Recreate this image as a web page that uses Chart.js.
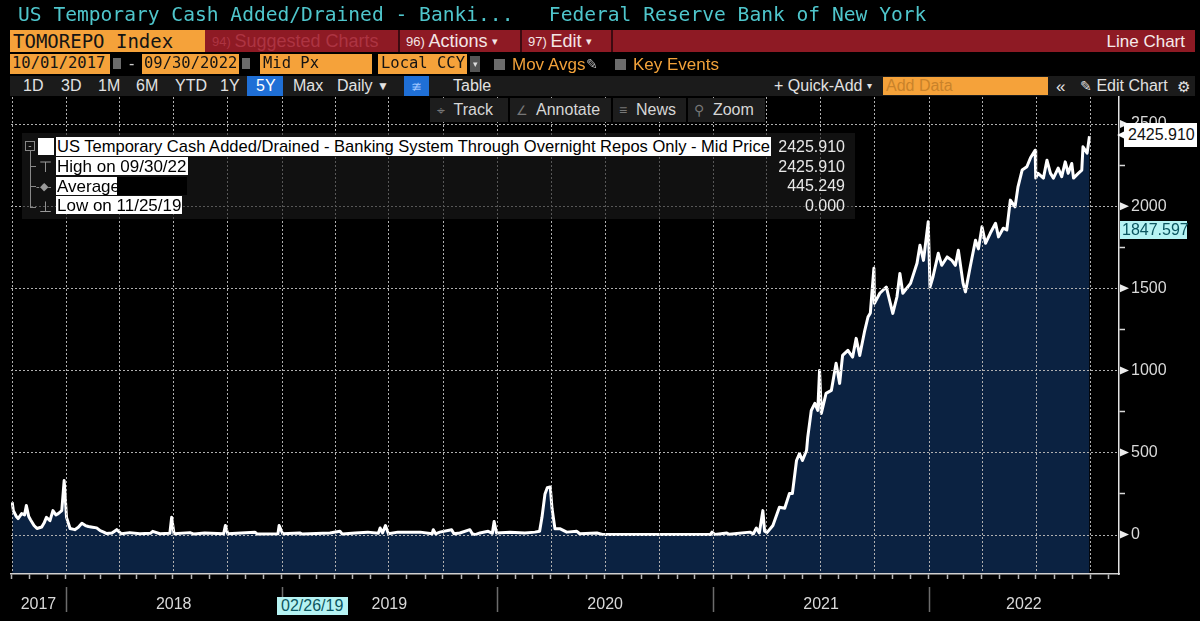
<!DOCTYPE html>
<html>
<head>
<meta charset="utf-8">
<script src="https://cdn.jsdelivr.net/npm/chart.js@4.4.0/dist/chart.umd.min.js"></script>
<style>
  body { margin: 0; background: #000; }
  #wrap { position: relative; width: 1200px; height: 621px; overflow: hidden; background: #000;
          font-family: "Liberation Sans", Arial, sans-serif; color: #ddd; }
  #wrap canvas { position: absolute; left: 0; top: 0; }
  .b { position: absolute; display: flex; align-items: center; white-space: pre; box-sizing: border-box; line-height: 1; }
  .mono { font-family: "DejaVu Sans Mono", monospace; }
  .org { background: #f5a23a; color: #141414; }
  .sep { position: absolute; background: #3c0a10; width: 2px; }
  .gsq { position: absolute; background: #6b6b6b; }
  .sel { background: #fff; color: #000; }
  .val { position: absolute; width: 120px; text-align: right; color: #e8e8e8; font-size: 16px; line-height: 1; }
</style>
</head>
<body>
<div id="wrap">
  <canvas id="chart" width="1200" height="621"></canvas>

  <!-- header -->
  <div class="b mono" style="left:18px;top:2px;height:26px;font-size:19.6px;color:#4fc6cc;">US Temporary Cash Added/Drained - Banki...   Federal Reserve Bank of New York</div>

  <div class="b org mono" style="left:10px;top:30px;width:195px;height:22px;padding-left:3px;font-size:19px;">TOMOREPO Index</div>
  <div class="b" style="left:205px;top:30px;width:990px;height:22px;background:#8e1a24;"></div>
  <div class="b" style="left:212px;top:30px;height:22px;font-size:18px;color:#ad3442;"><span style="font-size:13px">94) </span>Suggested Charts</div>
  <div class="sep" style="left:398px;top:30px;height:22px"></div>
  <div class="b" style="left:406px;top:30px;height:22px;font-size:18px;color:#f4e6e6;"><span style="font-size:13px">96) </span>Actions <span style="font-size:11px">&#9662;</span></div>
  <div class="sep" style="left:520px;top:30px;height:22px"></div>
  <div class="b" style="left:528px;top:30px;height:22px;font-size:18px;color:#f4e6e6;"><span style="font-size:13px">97) </span>Edit <span style="font-size:11px">&#9662;</span></div>
  <div class="sep" style="left:611px;top:30px;height:22px"></div>
  <div class="b" style="right:15px;top:30px;height:22px;font-size:17px;color:#f6eaea;">Line Chart</div>

  <div class="b org mono" style="left:10px;top:54px;width:100px;height:20px;padding-left:2px;font-size:15.5px;">10/01/2017</div>
  <div class="gsq" style="left:113px;top:58px;width:8px;height:11px"></div>
  <div class="b" style="left:129px;top:54px;height:20px;font-size:16px;color:#ccc">-</div>
  <div class="b org mono" style="left:142px;top:54px;width:97px;height:20px;padding-left:2px;font-size:15.5px;">09/30/2022</div>
  <div class="gsq" style="left:242px;top:58px;width:8px;height:11px"></div>
  <div class="b org mono" style="left:260px;top:54px;width:112px;height:20px;padding-left:3px;font-size:15.5px;">Mid Px</div>
  <div class="b org mono" style="left:378px;top:54px;width:89px;height:20px;padding-left:3px;font-size:15.5px;">Local CCY</div>
  <div class="b" style="left:470px;top:56px;width:10px;height:16px;background:#555;color:#ddd;font-size:9px;justify-content:center">&#9662;</div>
  <div class="gsq" style="left:494px;top:59px;width:11px;height:11px"></div>
  <div class="b" style="left:512px;top:54px;height:20px;font-size:17px;color:#f2a23a;">Mov Avgs</div>
  <div class="b" style="left:586px;top:54px;height:20px;font-size:14px;color:#bbb;">&#9998;</div>
  <div class="gsq" style="left:615px;top:59px;width:11px;height:11px"></div>
  <div class="b" style="left:633px;top:54px;height:20px;font-size:17px;color:#f2a23a;">Key Events</div>

  <div class="b" style="left:10px;top:76px;width:1185px;height:20px;background:#1b1b1b;"></div>
  <div class="b" style="left:247px;top:76px;width:36px;height:20px;background:#1f6fd6;"></div>
  <div class="b" style="left:404px;top:76px;width:25px;height:20px;background:#1f6fd6;color:#9cc4ff;font-size:13px;justify-content:center">&#8775;</div>
  <div class="b" style="left:23px;top:76px;height:20px;font-size:16px;color:#e2e2e2;">1D</div>
  <div class="b" style="left:61px;top:76px;height:20px;font-size:16px;color:#e2e2e2;">3D</div>
  <div class="b" style="left:98px;top:76px;height:20px;font-size:16px;color:#e2e2e2;">1M</div>
  <div class="b" style="left:136px;top:76px;height:20px;font-size:16px;color:#e2e2e2;">6M</div>
  <div class="b" style="left:175px;top:76px;height:20px;font-size:16px;color:#e2e2e2;">YTD</div>
  <div class="b" style="left:220px;top:76px;height:20px;font-size:16px;color:#e2e2e2;">1Y</div>
  <div class="b" style="left:256px;top:76px;height:20px;font-size:16px;color:#fff;">5Y</div>
  <div class="b" style="left:293px;top:76px;height:20px;font-size:16px;color:#e2e2e2;">Max</div>
  <div class="b" style="left:337px;top:76px;height:20px;font-size:16px;color:#e2e2e2;">Daily <span style="font-size:12px">&#9660;</span></div>
  <div class="b" style="left:453px;top:76px;height:20px;font-size:16px;color:#e2e2e2;">Table</div>
  <div class="b" style="left:774px;top:76px;height:20px;font-size:16px;color:#e2e2e2;">+ Quick-Add <span style="font-size:10px">&#9662;</span></div>
  <div class="b org" style="left:883px;top:77px;width:165px;height:18px;padding-left:3px;font-size:16px;color:#c9822a;">Add Data</div>
  <div class="b" style="left:1056px;top:76px;height:20px;font-size:17px;color:#e2e2e2;">&#171;</div>
  <div class="b" style="left:1080px;top:76px;height:20px;font-size:16px;color:#e2e2e2;"><span style="font-size:14px">&#9998;</span> Edit Chart</div>
  <div class="b" style="left:1177px;top:76px;height:20px;font-size:15px;color:#e2e2e2;">&#9881;</div>

  <div class="b" style="left:430px;top:98px;width:335px;height:24px;background:#1d1d1d;"></div>
  <div class="b" style="left:437px;top:98px;height:24px;font-size:16px;color:#d6d6d6;"><span style="color:#777;font-size:14px">&#8982;</span>  Track</div>
  <div class="b" style="left:516px;top:98px;height:24px;font-size:16px;color:#d6d6d6;"><span style="color:#777;font-size:13px">&#8736;</span>  Annotate</div>
  <div class="b" style="left:619px;top:98px;height:24px;font-size:16px;color:#d6d6d6;"><span style="color:#777;font-size:14px">&#8801;</span>  News</div>
  <div class="b" style="left:694px;top:98px;height:24px;font-size:16px;color:#d6d6d6;"><span style="color:#777;font-size:14px">&#9906;</span>  Zoom</div>
  <div class="b" style="left:508px;top:98px;width:2px;height:24px;background:#000"></div>
  <div class="b" style="left:611px;top:98px;width:2px;height:24px;background:#000"></div>
  <div class="b" style="left:686px;top:98px;width:2px;height:24px;background:#000"></div>

  <!-- legend panel -->
  <div class="b" style="left:22px;top:133px;width:833px;height:86px;background:rgba(28,28,28,0.6);"></div>
  <div class="b" style="left:25px;top:141px;width:10px;height:10px;border:1px solid #888;justify-content:center;color:#aaa;font-size:10px">-</div>
  <div class="b" style="left:30px;top:151px;width:1px;height:57px;background:#888"></div>
  <div class="b" style="left:30px;top:166px;width:6px;height:1px;background:#888"></div>
  <div class="b" style="left:30px;top:186px;width:6px;height:1px;background:#888"></div>
  <div class="b" style="left:30px;top:207px;width:6px;height:1px;background:#888"></div>
  <div class="b" style="left:38px;top:138px;width:16px;height:17px;background:#fff"></div>
  <div class="b" style="left:39px;top:157px;height:18px;font-size:15px;color:#999">&#8868;</div>
  <div class="b" style="left:36px;top:177px;height:18px;font-size:11px;color:#999">-&#9670;-</div>
  <div class="b" style="left:39px;top:197px;height:18px;font-size:15px;color:#999">&#8869;</div>
  <div class="b sel" style="left:56px;top:137px;height:19px;font-size:17px;padding:0 1px;transform:scaleX(0.972);transform-origin:left center;">US Temporary Cash Added/Drained - Banking System Through Overnight Repos Only - Mid Price</div>
  <div class="b sel" style="left:56px;top:157px;height:18px;font-size:17px;padding:0 1px">High on 09/30/22</div>
  <div class="b sel" style="left:56px;top:177px;height:18px;font-size:17px;padding:0 1px">Average</div>
  <div class="b" style="left:117px;top:177px;width:70px;height:18px;background:#000"></div>
  <div class="b sel" style="left:56px;top:196px;height:18px;font-size:17px;padding:0 1px">Low on 11/25/19</div>
  <div class="val" style="left:725px;top:139px">2425.910</div>
  <div class="val" style="left:725px;top:159px">2425.910</div>
  <div class="val" style="left:725px;top:178px">445.249</div>
  <div class="val" style="left:725px;top:198px">0.000</div>

  <!-- right-side tags -->
  <div class="b" style="left:1117px;top:123px;width:80px;height:24px;background:#fff;color:#111;font-size:16px;padding-left:11px;clip-path:polygon(7px 0,100% 0,100% 100%,7px 100%,7px 65%,0 50%,7px 35%);">2425.910</div>
  <div class="b" style="left:1120px;top:221px;width:67px;height:18px;background:#b6f3f3;color:#0c5660;font-size:16px;padding-left:2px;">1847.597</div>
  <div class="b" style="left:277px;top:597px;width:71px;height:18px;background:#b6f3f3;color:#0c5660;font-size:16px;padding-left:4px;">02/26/19</div>
</div>

<script>
const obsDates = [
  '2017-10-02','2017-10-04','2017-10-09','2017-10-12','2017-10-18','2017-10-23','2017-10-26','2017-10-30',
  '2017-11-02','2017-11-08','2017-11-13','2017-11-21','2017-11-25','2017-11-29','2017-12-05','2017-12-10',
  '2017-12-15','2017-12-19','2017-12-25','2017-12-29',
  '2018-01-02','2018-01-08','2018-01-16','2018-01-22','2018-01-28','2018-02-03','2018-02-08','2018-02-15',
  '2018-02-22','2018-02-28','2018-03-06','2018-03-11','2018-03-20','2018-03-28','2018-04-05','2018-04-19',
  '2018-05-06','2018-05-24','2018-05-28','2018-06-09','2018-06-26','2018-06-29','2018-07-03','2018-07-30',
  '2018-08-06','2018-08-24','2018-09-25','2018-09-28','2018-10-02','2018-11-17','2018-11-21','2018-12-26',
  '2018-12-28',
  '2019-01-03','2019-02-01','2019-02-05','2019-03-24','2019-04-10','2019-04-14','2019-05-06','2019-05-27',
  '2019-06-14','2019-06-17','2019-06-21','2019-06-26','2019-07-01','2019-07-17','2019-08-24','2019-09-13',
  '2019-09-15','2019-09-19','2019-09-26','2019-10-16','2019-10-20','2019-10-30','2019-11-16','2019-11-20',
  '2019-11-25','2019-12-03','2019-12-17','2019-12-24','2019-12-27','2019-12-31',
  '2020-01-23','2020-02-17','2020-03-05','2020-03-13','2020-03-17','2020-03-22','2020-03-26','2020-03-31',
  '2020-04-03','2020-04-08','2020-04-17','2020-04-28','2020-05-15','2020-05-20','2020-06-18','2020-06-29',
  '2020-12-27','2020-12-30',
  '2021-01-04','2021-01-24','2021-01-28','2021-03-04','2021-03-10','2021-03-15','2021-03-20','2021-03-26',
  '2021-03-29','2021-04-02','2021-04-12','2021-04-23','2021-05-02','2021-05-10','2021-05-15','2021-05-22',
  '2021-05-27','2021-06-01','2021-06-08','2021-06-10','2021-06-16','2021-06-22','2021-06-27','2021-06-30',
  '2021-07-03','2021-07-11','2021-07-20','2021-07-28','2021-08-03','2021-08-08','2021-08-17','2021-08-25',
  '2021-08-31','2021-09-06','2021-09-14','2021-09-20','2021-09-24','2021-09-30','2021-10-01','2021-10-10',
  '2021-10-21','2021-11-01','2021-11-08','2021-11-13','2021-11-18','2021-12-01','2021-12-12','2021-12-17',
  '2021-12-23','2021-12-31',
  '2022-01-03','2022-01-08','2022-01-17','2022-01-23','2022-02-01','2022-02-09','2022-02-15','2022-02-20',
  '2022-02-28','2022-03-04','2022-03-12','2022-03-21','2022-03-26','2022-04-01','2022-04-07','2022-04-15',
  '2022-04-24','2022-04-29','2022-05-07','2022-05-13','2022-05-19','2022-05-27','2022-06-01','2022-06-08',
  '2022-06-16','2022-06-22','2022-06-30','2022-07-01','2022-07-05','2022-07-14','2022-07-20','2022-07-26',
  '2022-07-31','2022-08-08','2022-08-14','2022-08-20','2022-08-25','2022-08-31','2022-09-03','2022-09-11',
  '2022-09-17','2022-09-19','2022-09-26','2022-09-30'
];
const obsValues = [
  197, 146, 110, 97, 128, 120, 177, 110,
  90, 55, 37, 46, 70, 105, 85, 146,
  120, 128, 146, 329,
  105, 37, 30, 45, 69, 55, 49, 45,
  41, 24, 15, 6, 10, 30, 5, 12,
  5, 8, 20, 5, 8, 105, 5, 12,
  3, 10, 5, 55, 5, 15, 3, 5,
  55,
  5, 10, 3, 10, 20, 3, 10, 15,
  8, 40, 10, 55, 5, 15, 15, 5,
  30, 5, 15, 30, 5, 10, 30, 5,
  0, 10, 20, 8, 80, 10,
  15, 10, 15, 20, 105, 245, 285, 290,
  160, 35, 35, 15, 20, 5, 10, 0,
  0, 15,
  0, 10, 2, 15, 5, 40, 10, 146,
  20, 12, 55, 166, 160, 250, 250, 451,
  494, 451, 512, 593, 756, 799, 756, 1000,
  738, 860, 878, 1043, 921, 1091, 1122, 1081,
  1195, 1091, 1234, 1325, 1350, 1622, 1408, 1470,
  1508, 1347, 1447, 1590, 1470, 1530, 1652, 1762,
  1670, 1905,
  1508, 1569, 1713, 1640, 1691, 1670, 1640, 1732,
  1530, 1478, 1630, 1793, 1740, 1874, 1774, 1835,
  1896, 1813, 1866, 1855, 2037, 1996, 2118, 2220,
  2240, 2293, 2341, 2171, 2200, 2171, 2280, 2200,
  2171, 2232, 2180, 2270, 2200, 2260, 2171, 2200,
  2220, 2362, 2323, 2425.91
];

const yearLabels = ['2017', '2018', '2019', '2020', '2021', '2022'];
const yMajorTicks = [0, 500, 1000, 1500, 2000, 2500];
const yMinorTicks = [250, 750, 1250, 1750, 2250];

const xMin = Date.parse('2017-09-30');
const xMax = Date.parse('2022-11-19');
const yMin = -240;
const yMax = 2665;

const FONT = '"Liberation Sans", Arial, sans-serif';
const navy = '#0b2241';
const gridGray = '#b0b0b0';
const clear = 'rgba(0,0,0,0)';

// month ticks on the time axis, quarterly ones carry the dotted grid
const monthTicks = [];
for (let yr = 2017; yr <= 2022; yr++) {
  for (let m = 0; m < 12; m++) {
    const t = Date.UTC(yr, m, 1);
    if (t > xMin && t < xMax) monthTicks.push({ value: t, quarter: m % 3 === 0 });
  }
}
const quarterTicks = monthTicks.filter(t => t.quarter).map(t => t.value);
const yearStarts = yearLabels.slice(1).map(y => Date.UTC(+y, 0, 1));
const yearLabelTicks = yearLabels.map(y => {
  const a = Math.max(Date.UTC(+y, 0, 1), xMin);
  const b = Math.min(Date.UTC(+y + 1, 0, 1), xMax);
  return { value: (a + b) / 2, text: y };
});

const points = obsDates.map((d, i) => ({ x: Date.parse(d), y: obsValues[i] }));

const decorations = {
  id: 'decorations',
  afterDraw(chart) {
    const ctx = chart.ctx;
    const area = chart.chartArea;
    const xs = chart.scales.x;
    const ys = chart.scales.y;
    ctx.save();
    // dotted grid on top of the area fill
    ctx.fillStyle = gridGray;
    quarterTicks.forEach(v => {
      const px = Math.round(xs.getPixelForValue(v));
      for (let py = Math.ceil(area.top); py < area.bottom - 1; py += 4) ctx.fillRect(px, py, 1, 2);
    });
    yMajorTicks.forEach(v => {
      const py = Math.round(ys.getPixelForValue(v));
      for (let px = Math.ceil(area.left); px < area.right - 1; px += 4) ctx.fillRect(px, py, 2, 1);
    });
    // major tick arrows on the price axis
    ctx.fillStyle = '#ececec';
    yMajorTicks.forEach(v => {
      const py = ys.getPixelForValue(v);
      ctx.beginPath();
      ctx.moveTo(area.right + 1, py - 4);
      ctx.lineTo(area.right + 10, py);
      ctx.lineTo(area.right + 1, py + 4);
      ctx.closePath();
      ctx.fill();
    });
    // year separators under the time axis
    ctx.strokeStyle = '#6c6c6c';
    ctx.lineWidth = 1.5;
    yearStarts.forEach(t => {
      const px = Math.round(xs.getPixelForValue(t)) + 0.5;
      ctx.beginPath();
      ctx.moveTo(px, 587);
      ctx.lineTo(px, 612);
      ctx.stroke();
    });
    ctx.restore();
  }
};

new Chart(document.getElementById('chart'), {
  type: 'line',
  data: {
    datasets: [{
      data: points,
      borderColor: '#ffffff',
      borderWidth: 3,
      backgroundColor: navy,
      fill: 'start',
      pointRadius: 0,
      tension: 0,
      borderJoinStyle: 'round'
    }]
  },
  options: {
    responsive: false,
    animation: false,
    devicePixelRatio: 1,
    layout: { padding: { left: 11, top: 97, right: 0, bottom: 0 } },
    plugins: { legend: { display: false }, tooltip: { enabled: false } },
    scales: {
      x: {
        type: 'linear',
        min: xMin,
        max: xMax,
        afterBuildTicks: scale => {
          scale.ticks = monthTicks.map(t => ({ value: t.value }))
            .concat(yearLabelTicks.map(t => ({ value: t.value })))
            .sort((a, b) => a.value - b.value);
        },
        afterFit: scale => { scale.height = 47; },
        border: { display: true, color: '#d0d0d0', width: 1.5, z: 1 },
        grid: {
          color: clear,
          tickColor: c => (c.tick && monthTicks.some(t => t.value === c.tick.value)) ? '#b5b5b5' : clear,
          lineWidth: 1,
          tickLength: 5,
          tickWidth: 1.5
        },
        ticks: {
          autoSkip: false,
          minRotation: 0,
          maxRotation: 0,
          padding: 0,
          color: '#d9d9d9',
          font: { family: FONT, size: 16, lineHeight: '52px' },
          callback: value => {
            const t = yearLabelTicks.find(l => l.value === value);
            return t ? t.text : '';
          }
        }
      },
      y: {
        position: 'right',
        min: yMin,
        max: yMax,
        afterBuildTicks: scale => {
          scale.ticks = yMajorTicks.concat(yMinorTicks).sort((a, b) => a - b).map(v => ({ value: v }));
        },
        afterFit: scale => { scale.width = 81; },
        border: { display: true, color: '#e2e2e2', width: 1.5, z: 1 },
        grid: {
          color: clear,
          tickColor: c => (c.tick && yMinorTicks.includes(c.tick.value)) ? '#d8d8d8' : clear,
          lineWidth: 1,
          tickLength: 6,
          tickWidth: 1.5
        },
        ticks: {
          padding: 6,
          color: '#d9d9d9',
          font: { family: FONT, size: 16 },
          callback: v => yMajorTicks.includes(v) ? String(v) : ''
        }
      }
    }
  },
  plugins: [decorations]
});
</script>
</body>
</html>
